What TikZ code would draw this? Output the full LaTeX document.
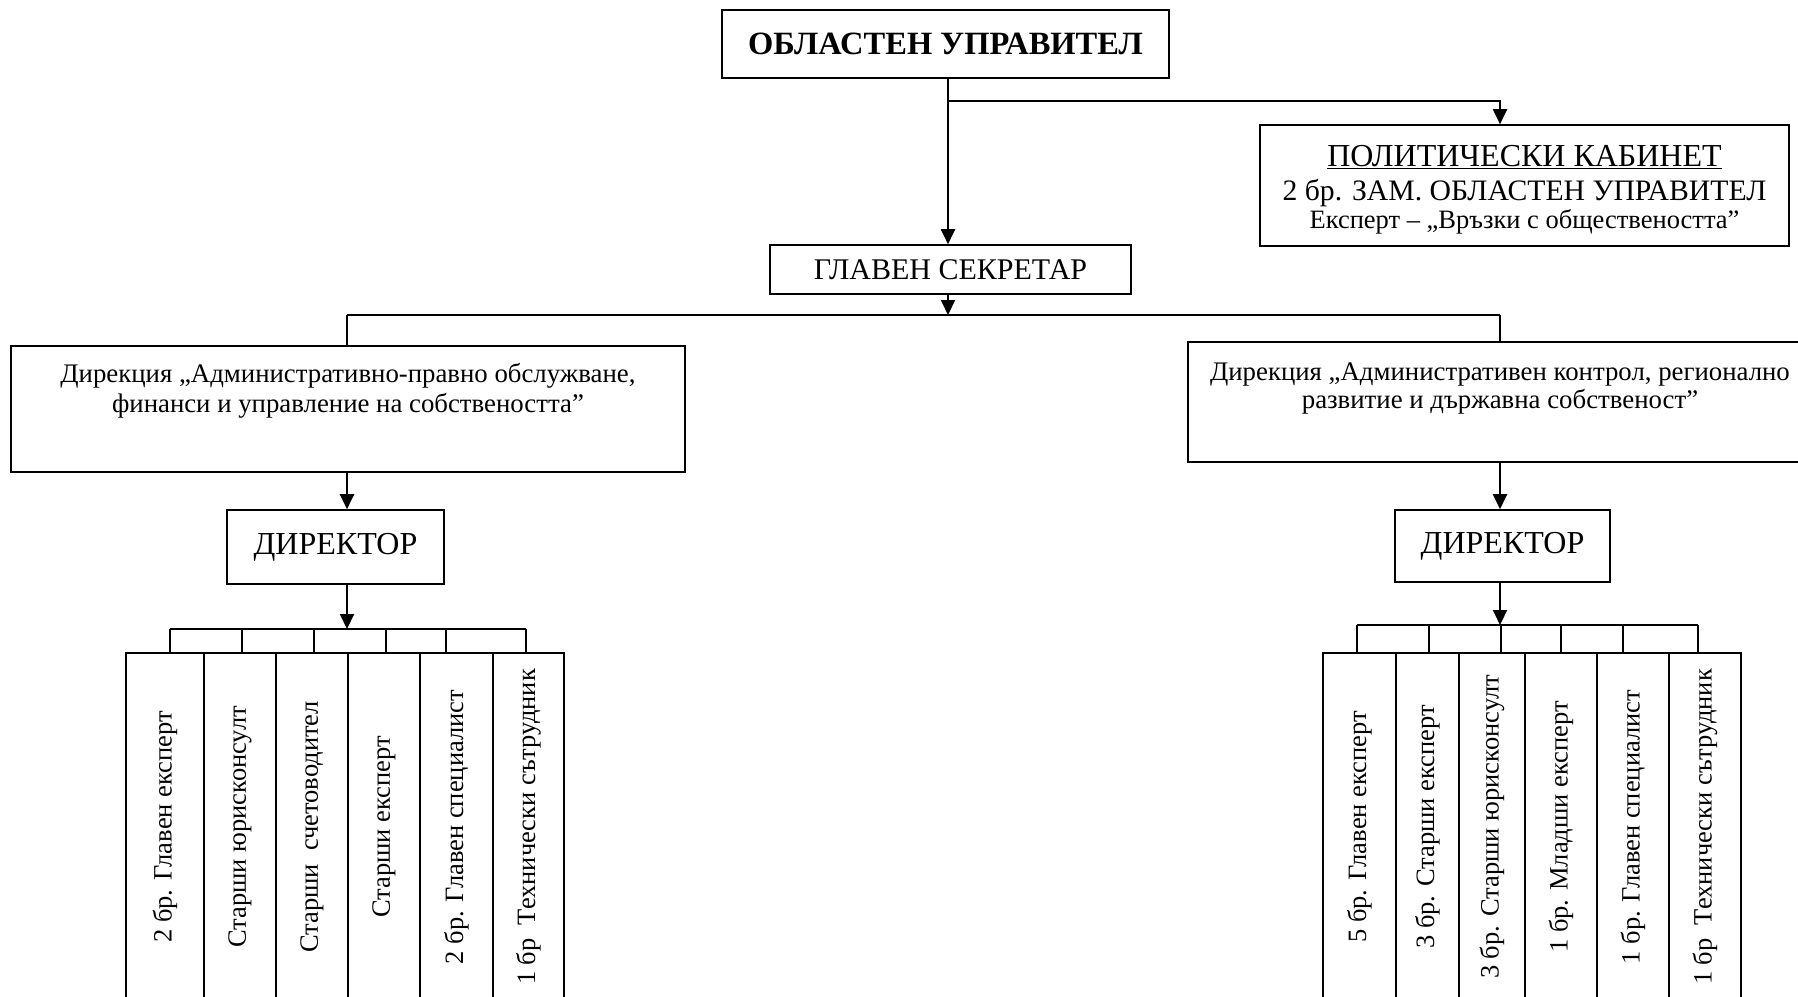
\documentclass[tikz,border=0pt]{standalone}
\usepackage{fontspec}
\setmainfont{Liberation Serif}
\usetikzlibrary{arrows.meta}
\newcommand{\fs}[1]{\fontsize{#1}{#1}\selectfont}
\begin{document}
\begin{tikzpicture}[x=1pt,y=-1pt,
  box/.style={draw,line width=1.6pt,inner sep=0pt},
  conn/.style={line width=2pt},
  arr/.style={conn,-{Triangle[length=15pt,width=14pt]}},
  txt/.style={anchor=base,inner sep=0pt},
  col/.style={draw,line width=1.6pt,rotate=90,minimum width=348pt,inner sep=0pt,font=\fs{26.5}},
]
\useasboundingbox (0,0) rectangle (1798,996);
% top
\node[box,minimum width=447pt,minimum height=68pt,font=\fs{32.5}\bfseries] (ou) at (945.5,44) {ОБЛАСТЕН УПРАВИТЕЛ};
\node[box,minimum width=361pt,minimum height=49pt,font=\fs{30}] (gs) at (950.5,269.5) {ГЛАВЕН СЕКРЕТАР};
\node[box,minimum width=529pt,minimum height=121pt] (pk) at (1524.5,185.5) {};
\node[txt,font=\fs{32}] (pk1) at (1524.5,166) {\underline{ПОЛИТИЧЕСКИ КАБИНЕТ}};
\node[txt,font=\fs{29.7}] (pk2) at (1524.5,200) {2 бр. ЗАМ. ОБЛАСТЕН УПРАВИТЕЛ};
\node[txt,font=\fs{26.5}] (pk3) at (1524.5,228) {Експерт – „Връзки с обществеността”};
% directions
\node[box,minimum width=674pt,minimum height=126pt] (dl) at (348,409) {};
\node[txt,font=\fs{26.8}] (dl1) at (348,382) {Дирекция „Административно-правно обслужване,};
\node[txt,font=\fs{26.8}] (dl2) at (348,412) {финанси и управление на собствеността”};
\node[box,minimum width=624pt,minimum height=120pt] (dr) at (1500,402) {};
\node[txt,font=\fs{26.8}] (dr1) at (1500,380) {Дирекция „Административен контрол, регионално};
\node[txt,font=\fs{26.8}] (dr2) at (1500,408) {развитие и държавна собственост”};
% directors
\node[box,minimum width=217pt,minimum height=74pt,font=\fs{32}] (dirl) at (335.5,547) {ДИРЕКТОР};
\node[box,minimum width=215pt,minimum height=72pt,font=\fs{32}] (dirr) at (1502.5,546) {ДИРЕКТОР};
% columns left
\node[col,minimum height=78pt] (l1) at (165,827) {2 бр. Главен експерт};
\node[col,minimum height=72pt] (l2) at (240,827) {Старши юрисконсулт};
\node[col,minimum height=72pt] (l3) at (312,827) {Старши~ счетоводител};
\node[col,minimum height=72pt] (l4) at (384,827) {Старши експерт};
\node[col,minimum height=73pt] (l5) at (456.5,827) {2 бр. Главен специалист};
\node[col,minimum height=71pt] (l6) at (528.5,827) {1 бр~ Технически сътрудник};
% columns right
\node[col,minimum height=73pt] (r1) at (1359.5,827) {5 бр. Главен експерт};
\node[col,minimum height=63pt] (r2) at (1427.5,827) {3 бр. Старши експерт};
\node[col,minimum height=66pt] (r3) at (1492,827) {3 бр. Старши юрисконсулт};
\node[col,minimum height=72pt] (r4) at (1561,827) {1 бр. Младши експерт};
\node[col,minimum height=72pt] (r5) at (1633,827) {1 бр. Главен специалист};
\node[col,minimum height=72pt] (r6) at (1705,827) {1 бр~ Технически сътрудник};
% junction coordinates
\coordinate (j1) at (948,101);
\coordinate (j2) at (1500,101);
\coordinate (j3) at (948,315);
\coordinate (bl) at (347,315);
\coordinate (br) at (1500,315);
\coordinate (lb) at (347,629);
\coordinate (rb) at (1500,625);
% connectors
\draw[arr] (ou.south -| j1) -- (gs.north -| j1);
\draw[arr] (j1) -- (j2) -- (j2 |- pk.north);
\draw[arr] (gs.south -| j3) -- (j3);
\draw[conn] (bl) -- (br);
\draw[conn] (bl) -- (bl |- dl.north);
\draw[conn] (br) -- (br |- dr.north);
\draw[arr] (dl.south -| bl) -- (dirl.north -| bl);
\draw[arr] (dr.south -| br) -- (dirr.north -| br);
\draw[arr] (dirl.south -| lb) -- (lb);
\draw[arr] (dirr.south -| rb) -- (rb);
% left bus
\coordinate (lt1) at (170,629);
\coordinate (lt2) at (242,629);
\coordinate (lt3) at (314,629);
\coordinate (lt4) at (386,629);
\coordinate (lt5) at (446,629);
\coordinate (lt6) at (526,629);
\draw[conn] (lt1) -- (lt6);
\draw[conn] (lt1) -- (lt1 |- l1.east);
\draw[conn] (lt2) -- (lt2 |- l2.east);
\draw[conn] (lt3) -- (lt3 |- l3.east);
\draw[conn] (lt4) -- (lt4 |- l4.east);
\draw[conn] (lt5) -- (lt5 |- l5.east);
\draw[conn] (lt6) -- (lt6 |- l6.east);
% right bus
\coordinate (rt1) at (1357,625);
\coordinate (rt2) at (1429,625);
\coordinate (rt3) at (1501,625);
\coordinate (rt4) at (1561,625);
\coordinate (rt5) at (1623,625);
\coordinate (rt6) at (1698,625);
\draw[conn] (rt1) -- (rt6);
\draw[conn] (rt1) -- (rt1 |- r1.east);
\draw[conn] (rt2) -- (rt2 |- r2.east);
\draw[conn] (rt3) -- (rt3 |- r3.east);
\draw[conn] (rt4) -- (rt4 |- r4.east);
\draw[conn] (rt5) -- (rt5 |- r5.east);
\draw[conn] (rt6) -- (rt6 |- r6.east);
\end{tikzpicture}
\end{document}
